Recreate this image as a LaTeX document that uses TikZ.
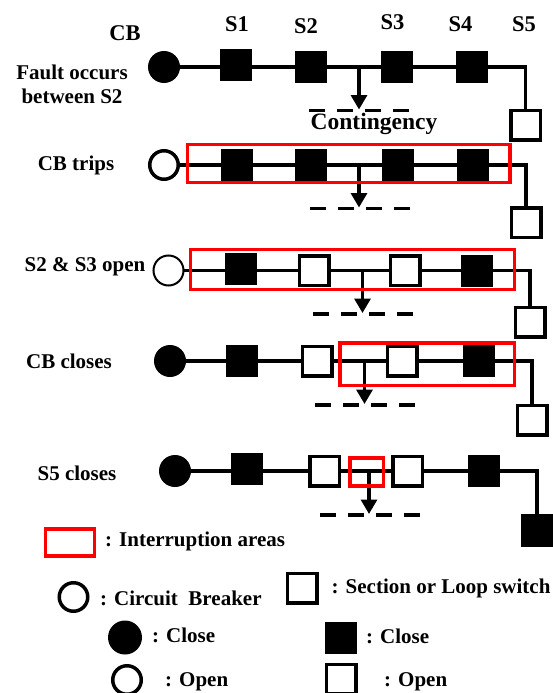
\documentclass[tikz,border=0pt]{standalone}
\usepackage{fontspec}
\setmainfont{Liberation Serif}
\usepackage{tikz}
\usetikzlibrary{arrows.meta,positioning}
\tikzset{
  cbclosed/.style={circle, fill=black, minimum size=32pt, inner sep=0pt, outer sep=0pt},
  cbopen/.style={circle, draw=black, fill=white, line width=3.5pt, minimum size=28.5pt, inner sep=0pt, outer sep=0pt},
  swclosed/.style={rectangle, fill=black, minimum size=32pt, inner sep=0pt, outer sep=0pt},
  swopen/.style={rectangle, draw=black, fill=white, line width=3.5pt, minimum size=29.5pt, inner sep=0pt, outer sep=0pt},
  areabox/.style={rectangle, draw=red, line width=3.5pt, inner sep=0pt, outer sep=0pt},
  txtlabel/.style={font=\fontsize{21}{24}\selectfont\bfseries, align=center, inner sep=0pt, yshift=-1.5pt},
  hdlabel/.style={font=\fontsize{22.5}{24}\selectfont\bfseries, inner sep=0pt, yshift=-1.5pt},
  feeder/.style={line width=3.3pt},
  faultline/.style={-{Triangle[length=14.5pt,width=16pt]}, line width=3.3pt},
  tieline/.style={line width=3.5pt, dash pattern=on 15.5pt off 12.5pt}
}
\begin{document}
\begin{tikzpicture}[x=1pt, y=-1pt, on grid]
  \useasboundingbox (0,0) rectangle (553,693);

  % fault occurs
  \node[cbclosed] (cb1) at (164,67) {};
  \node[swclosed, right=72pt of cb1, yshift=2pt] (s11) {};
  \node[swclosed, right=75pt of s11, yshift=-2pt] (s21) {};
  \node[swclosed, right=86pt of s21] (s31) {};
  \node[swclosed, right=75pt of s31] (s41) {};
  \node[swopen, below right=58pt and 53.5pt of s41] (s51) {};
  \draw[feeder] (cb1) -- (cb1 -| s11) (s21 -| s11) -- (s21) -- (s31) -- (s41) -| (s51);
  \coordinate (fault1) at (359,67);
  \coordinate (tip1) at (359,109.5);
  \coordinate (tiea1) at (309,110.5);
  \coordinate (tieb1) at (409,110.5);
  \draw[tieline] (tiea1) -- (tieb1);
  \draw[faultline] (fault1) -- (tip1);

  % CB trips
  \node[cbopen] (cb2) at (164,165) {};
  \node[swclosed, right=73pt of cb2] (s12) {};
  \node[swclosed, right=74pt of s12] (s22) {};
  \node[swclosed, right=87pt of s22] (s32) {};
  \node[swclosed, right=75pt of s32] (s42) {};
  \node[swopen, below right=57.5pt and 53pt of s42] (s52) {};
  \draw[feeder] (cb2) -- (s12) -- (s22) -- (s32) -- (s42) -| (s52);
  \coordinate (fault2) at (359,165);
  \coordinate (tip2) at (359,207.5);
  \coordinate (tiea2) at (310,208.5);
  \coordinate (tieb2) at (410,208.5);
  \draw[tieline] (tiea2) -- (tieb2);
  \draw[faultline] (fault2) -- (tip2);
  \node[areabox, minimum width=322.5pt, minimum height=38pt] (area2) at (348.75,163.5) {};

  % S2 and S3 open
  \node[cbopen, line width=2pt, minimum size=30pt] (cb3) at (168.5,270.5) {};
  \node[swclosed, right=72pt of cb3, yshift=1.5pt] (s13) {};
  \node[swopen, right=73.5pt of s13, yshift=-1.5pt] (s23) {};
  \node[swopen, right=91pt of s23] (s33) {};
  \node[swclosed, right=72pt of s33] (s43) {};
  \node[swopen, below right=51.5pt and 53pt of s43] (s53) {};
  \draw[feeder] (cb3) -- (cb3 -| s13) (s23 -| s13) -- (s23) -- (s33) -- (s43) -| (s53);
  \coordinate (fault3) at (362.5,270.5);
  \coordinate (tip3) at (362.5,313);
  \coordinate (tiea3) at (313,314);
  \coordinate (tieb3) at (413,314);
  \draw[tieline] (tiea3) -- (tieb3);
  \draw[faultline] (fault3) -- (tip3);
  \node[areabox, minimum width=324pt, minimum height=40pt] (area3) at (352.5,269.5) {};

  % CB closes
  \node[cbclosed] (cb4) at (170,361) {};
  \node[swclosed, right=72pt of cb4] (s14) {};
  \node[swopen, right=75pt of s14] (s24) {};
  \node[swopen, right=85pt of s24] (s34) {};
  \node[swclosed, right=77pt of s34] (s44) {};
  \node[swopen, below right=59pt and 53pt of s44] (s54) {};
  \draw[feeder] (cb4) -- (s14) -- (s24) -- (s34) -- (s44) -| (s54);
  \coordinate (fault4) at (364.5,361);
  \coordinate (tip4) at (364.5,404);
  \coordinate (tiea4) at (315,405);
  \coordinate (tieb4) at (415,405);
  \draw[tieline] (tiea4) -- (tieb4);
  \draw[faultline] (fault4) -- (tip4);
  \node[areabox, minimum width=174.5pt, minimum height=42.5pt] (area4) at (427.25,364.25) {};

  % S5 closes
  \node[cbclosed] (cb5) at (175,471) {};
  \node[swclosed, right=72pt of cb5, yshift=2pt] (s15) {};
  \node[swopen, right=77.5pt of s15, yshift=-2pt] (s25) {};
  \node[swopen, right=83pt of s25] (s35) {};
  \node[swclosed, right=76.5pt of s35] (s45) {};
  \node[swclosed, minimum size=33pt, below right=59pt and 53pt of s45] (s55) {};
  \draw[feeder] (cb5) -- (cb5 -| s15) (s25 -| s15) -- (s25) -- (s35) -- (s45) -| (s55);
  \coordinate (fault5) at (369,471);
  \coordinate (tip5) at (369,514);
  \coordinate (tiea5) at (320,515);
  \coordinate (tieb5) at (420,515);
  \draw[tieline] (tiea5) -- (tieb5);
  \draw[faultline] (fault5) -- (tip5);
  \node[areabox, minimum width=33.5pt, minimum height=28pt] (area5) at (366.75,472) {};

  % switch and row labels
  \node[hdlabel] (cblabel) at (125,32) {CB};
  \node[hdlabel] (s1label) at (237,23) {S1};
  \node[hdlabel] (s2label) at (306,25) {S2};
  \node[hdlabel] (s3label) at (392.5,21) {S3};
  \node[hdlabel] (s4label) at (460.5,23) {S4};
  \node[hdlabel] (s5label) at (524,23) {S5};
  \node[txtlabel] (row1) at (72,83) {Fault occurs\\between S2};
  \node[txtlabel, font=\fontsize{23.5}{24}\selectfont\bfseries] (cont) at (374,122) {Contingency};
  \node[txtlabel] (row2) at (76,164) {CB trips};
  \node[txtlabel] (row3) at (85,265) {S2 \& S3 open};
  \node[txtlabel] (row4) at (69,360) {CB closes};
  \node[txtlabel] (row5) at (77,472) {S5 closes};

  % legend
  \node[areabox, minimum width=49pt, minimum height=27pt] (legarea) at (70,542.5) {};
  \node[txtlabel, anchor=west] (legarealabel) at (105,540) {: Interruption areas};
  \node[cbopen] (legcb) at (73.5,597) {};
  \node[txtlabel, anchor=west] (legcblabel) at (100,597) {: Circuit~~Breaker};
  \node[swopen] (legsw) at (302,588) {};
  \node[txtlabel, anchor=west] (legswlabel) at (331.5,587) {: Section or Loop switch};
  \node[cbclosed, minimum size=34pt] (legcbc) at (125,637.5) {};
  \node[txtlabel, anchor=west] (legcbclabel) at (152,634) {: Close};
  \node[swclosed] (legswc) at (341,637.5) {};
  \node[txtlabel, anchor=west] (legswclabel) at (366,635) {: Close};
  \node[cbopen] (legcbo) at (127,680) {};
  \node[txtlabel, anchor=west] (legcbolabel) at (165,680) {: Open};
  \node[swopen] (legswo) at (341,679) {};
  \node[txtlabel, anchor=west] (legswolabel) at (384,680) {: Open};
\end{tikzpicture}
\end{document}
